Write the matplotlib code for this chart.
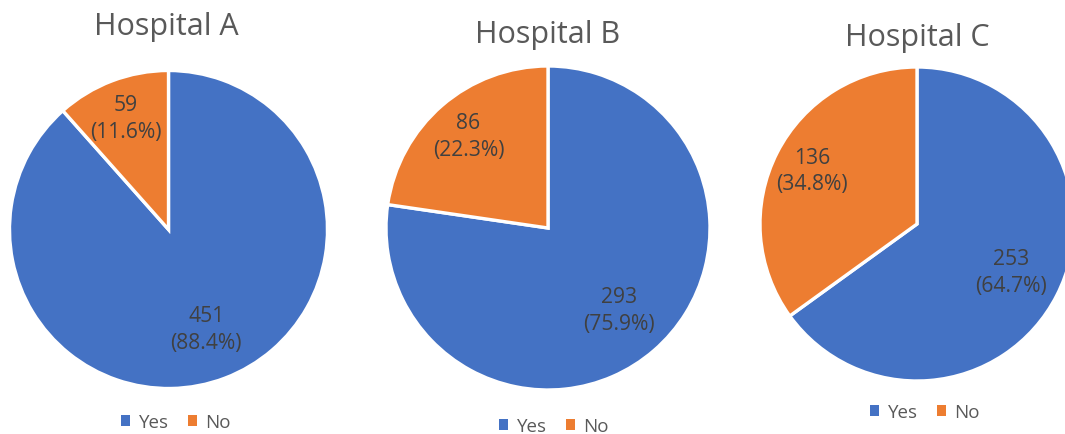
import matplotlib
matplotlib.use("Agg")
import matplotlib.pyplot as plt
from matplotlib.patches import Patch
import numpy as np

# data
hospitals = ["Hospital A", "Hospital B", "Hospital C"]
categories = ["Yes", "No"]
yes_counts = [451, 293, 253]
no_counts = [59, 86, 136]
yes_pct = [88.4, 75.9, 64.7]
no_pct = [11.6, 22.3, 34.8]

BLUE = "#4472C4"
ORANGE = "#ED7D31"
TITLE_C = "#595959"
LABEL_C = "#404040"

plt.rcParams["font.family"] = ["Open Sans", "DejaVu Sans"]

W, H = 1065, 435
fig = plt.figure(figsize=(W / 100, H / 100), dpi=100)
fig.patch.set_facecolor("white")

# layout in pixels (center x, center y from top, radius)
pies = [(168.5, 230.5, 159), (548, 229, 162), (917, 225, 157)]
titles_xy = [(166, 27), (548, 35), (917, 38)]
legends_xy = [(176, 423), (554, 427), (925, 413)]
label_dist = {"Yes": 0.67, "No": 0.75}

for i, (cx, cy, r) in enumerate(pies):
    ax = fig.add_axes([(cx - r) / W, (H - cy - r) / H, 2 * r / W, 2 * r / H])
    vals = [yes_counts[i], no_counts[i]]
    pcts = [yes_pct[i], no_pct[i]]
    wedges, _ = ax.pie(vals, colors=[BLUE, ORANGE], startangle=90, counterclock=False,
                       wedgeprops=dict(edgecolor="white", linewidth=2.4))
    ax.set_xlim(-1, 1)
    ax.set_ylim(-1, 1)
    ax.set_aspect("equal")
    for w, cat, v, p in zip(wedges, categories, vals, pcts):
        mid = np.deg2rad((w.theta1 + w.theta2) / 2)
        d = label_dist[cat]
        ax.text(d * np.cos(mid), d * np.sin(mid), f"{v}\n({p:.1f}%)", ha="center",
                va="center", fontsize=15.2, color=LABEL_C, linespacing=1.35)
    tx, ty = titles_xy[i]
    fig.text(tx / W, 1 - ty / H, hospitals[i], ha="center", va="center",
             fontsize=22, color=TITLE_C)
    lx, ly = legends_xy[i]
    handles = [Patch(facecolor=BLUE, edgecolor="none"), Patch(facecolor=ORANGE, edgecolor="none")]
    leg = fig.legend(handles, categories, loc="center", bbox_to_anchor=(lx / W, 1 - ly / H),
                     ncol=2, frameon=False, fontsize=13.5, handlelength=0.5,
                     handleheight=0.5, handletextpad=0.45, columnspacing=1.0)
    for t in leg.get_texts():
        t.set_color(TITLE_C)

fig.savefig("out.png", dpi=100, facecolor="white")
